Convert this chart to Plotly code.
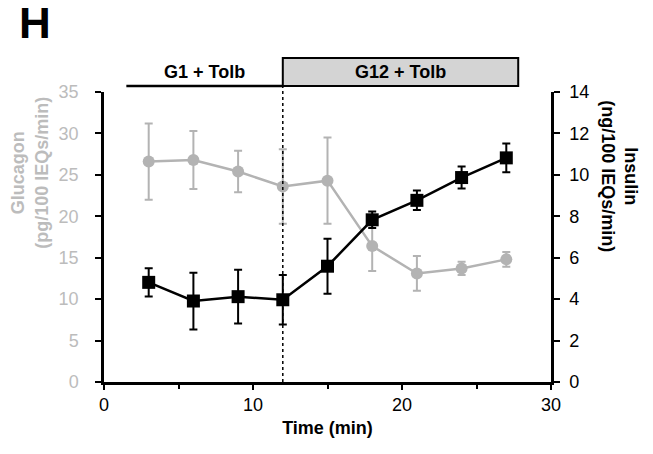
import plotly.graph_objects as go

# ---- data ----
time_min = [3, 6, 9, 12, 15, 18, 21, 24, 27]
glucagon = [26.6, 26.8, 25.4, 23.6, 24.3, 16.4, 13.1, 13.7, 14.8]
glucagon_err = [4.6, 3.5, 2.5, 4.5, 5.2, 3.0, 2.1, 0.8, 0.9]
insulin = [4.81, 3.91, 4.12, 3.97, 5.59, 7.83, 8.77, 9.87, 10.82]
insulin_err = [0.68, 1.37, 1.30, 1.20, 1.33, 0.40, 0.47, 0.53, 0.69]

phase_labels = ["G1 + Tolb", "G12 + Tolb"]
phase_start = [1.5, 12]
phase_end = [12, 27.8]

x_ticks = [0, 10, 20, 30]
glucagon_ticks = [0, 5, 10, 15, 20, 25, 30, 35]
insulin_ticks = [0, 2, 4, 6, 8, 10, 12, 14]

# ---- styles ----
FONT = "Arial, Liberation Sans, sans-serif"
GRAY = "#b3b3b3"
GRAY_TXT = "#bcbcbc"
BLACK = "#000000"

fig = go.Figure()

fig.add_trace(go.Scatter(
    x=time_min, y=glucagon, yaxis="y", mode="lines+markers",
    line=dict(color=GRAY, width=2.5),
    marker=dict(symbol="circle", size=12, color=GRAY),
    error_y=dict(type="data", array=glucagon_err, visible=True,
                 color=GRAY, thickness=2, width=4),
    showlegend=False,
))

fig.add_trace(go.Scatter(
    x=time_min, y=insulin, yaxis="y2", mode="lines+markers",
    line=dict(color=BLACK, width=2.5),
    marker=dict(symbol="square", size=13, color=BLACK),
    error_y=dict(type="data", array=insulin_err, visible=True,
                 color=BLACK, thickness=2, width=4),
    showlegend=False,
))

# phase band shapes
band_bottom = 1.0207
band_top = 1.117
fig.add_shape(type="line", xref="x", yref="paper",
              x0=phase_start[0], x1=phase_end[0], y0=band_bottom, y1=band_bottom,
              line=dict(color=BLACK, width=2.5))
fig.add_shape(type="rect", xref="x", yref="paper",
              x0=phase_start[1], x1=phase_end[1], y0=band_bottom, y1=band_top,
              fillcolor="#d4d4d4", line=dict(color=BLACK, width=2))
fig.add_shape(type="line", xref="x", yref="paper",
              x0=phase_start[1], x1=phase_start[1], y0=0, y1=band_bottom,
              line=dict(color=BLACK, width=1.5, dash="dot"), layer="above")

for lab, s, e in zip(phase_labels, phase_start, phase_end):
    fig.add_annotation(x=(s + e) / 2, y=1.07, xref="x", yref="paper",
                       text=f"<b>{lab}</b>", showarrow=False,
                       xanchor="center", yanchor="middle",
                       font=dict(family=FONT, size=18, color=BLACK))

# panel letter
fig.add_annotation(x=-0.154, y=1.238, xref="paper", yref="paper",
                   text="<b>H</b>", showarrow=False, xanchor="center", yanchor="middle",
                   borderpad=0,
                   font=dict(family=FONT, size=44, color=BLACK))

# axis titles
fig.add_annotation(x=-0.1665, y=0.72, xref="paper", yref="paper",
                   text="<b>Glucagon<br>(pg/100 IEQs/min)</b>", showarrow=False,
                   xanchor="center", yanchor="middle", borderpad=0,
                   textangle=-90, font=dict(family=FONT, size=18, color=GRAY_TXT))
fig.add_annotation(x=1.153, y=0.708, xref="paper", yref="paper",
                   text="<b>Insulin<br>(ng/100 IEQs/min)</b>", showarrow=False,
                   xanchor="center", yanchor="middle", borderpad=0,
                   textangle=90, font=dict(family=FONT, size=18, color=BLACK))

fig.update_layout(
    width=645, height=446,
    margin=dict(l=96, r=102, t=84, b=72),
    paper_bgcolor="white", plot_bgcolor="white",
    font=dict(family=FONT),
    xaxis=dict(range=[0, 30], tickvals=x_ticks, ticks="outside", ticklen=5,
               tickwidth=2, tickcolor=BLACK, showline=True, linewidth=2.5,
               linecolor=BLACK, showgrid=False, zeroline=False,
               tickfont=dict(family=FONT, size=18, color=BLACK),
               tickprefix="<b>", ticksuffix="</b>",
               minor=dict(dtick=5, ticks="outside", ticklen=4, tickwidth=2, tickcolor=BLACK),
               title=dict(text="<b>Time (min)</b>", standoff=8,
                          font=dict(family=FONT, size=18, color=BLACK))),
    yaxis=dict(range=[0, 35], tickvals=glucagon_ticks, ticks="outside", ticklen=6,
               tickwidth=2, tickcolor=BLACK, showline=True, linewidth=2.5,
               linecolor=BLACK, showgrid=False, zeroline=False,
               ticklabelstandoff=13,
               tickfont=dict(family=FONT, size=18, color=GRAY_TXT)),
    yaxis2=dict(range=[0, 14], tickvals=insulin_ticks, ticks="outside", ticklen=6,
                tickwidth=2, tickcolor=BLACK, showline=True, linewidth=2.5,
                linecolor=BLACK, showgrid=False, zeroline=False,
                overlaying="y", side="right", ticklabelstandoff=6,
                tickprefix="<b>", ticksuffix="</b>",
                tickfont=dict(family=FONT, size=18, color=BLACK)),
)

fig.write_html("out.html")
